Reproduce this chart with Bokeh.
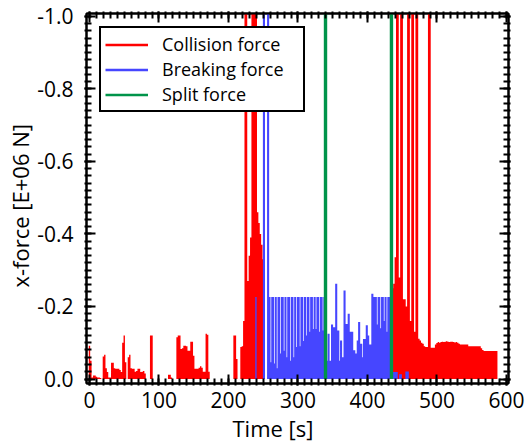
import numpy as np
from bokeh.plotting import figure
from bokeh.models import (Range1d, FixedTicker, NumeralTickFormatter, LinearAxis,
                          Legend, LegendItem, Title, CustomJSTickFormatter)
from bokeh.embed import file_html
from bokeh.resources import INLINE

# ---------------- data ----------------
S = -1.2  # spike beyond the plotted range

# Collision force, sampled every 2 s from t = 0
red_t0, red_dt = 0.0, 2.0
f_red = [
    -.092, -.05, -.004, -.01, -.01, -.006, -.004, -.004, -.003, 0,          # 0
    -.062, -.067, -.03, -.019, -.004, -.004, -.045, -.045, -.03, -.028,     # 20
    -.028, -.028, -.025, -.019, -.10, -.12, -.046, 0, -.06, -.067,          # 40
    -.03, -.028, -.028, -.02, -.022, -.028, -.028, -.019, -.02, -.022,      # 60
    -.015, 0, 0, 0, -.12, -.12, 0, 0, 0, 0,                                 # 80
    0, 0, 0, 0, 0, 0, 0, -.012, -.012, -.004,                               # 100
    0, 0, 0, -.115, -.12, -.12, -.083, -.085, -.092, -.092,                 # 120
    -.09, -.078, -.078, -.103, -.103, -.064, -.028, -.028, -.028, -.031,    # 140
    -.035, -.031, -.02, -.02, -.125, -.122, -.02, 0, 0, 0,                  # 160
    0, 0, 0, 0, 0, 0, 0, 0, 0, 0,                                           # 180
    0, 0, 0, 0, -.12, -.12, -.055, 0, 0, -.088,                             # 200
    -.09, -.16, S, S, -.27, -.34, -.39, S, S, S,                            # 220
    S, -.46, -.43, -.40, -.37, -.33, 0, 0, 0, 0,                            # 240
    0, 0, 0, 0, 0, 0, 0, 0, 0, 0,                                           # 260
    0, 0, 0, 0, 0, 0, 0, 0, 0, 0,                                           # 280
    0, 0, 0, 0, 0, 0, 0, 0, 0, 0,                                           # 300
    0, 0, 0, 0, 0, 0, 0, 0, 0, 0,                                           # 320
    0, 0, 0, 0, 0, 0, 0, 0, 0, 0,                                           # 340
    0, 0, 0, 0, 0, 0, 0, 0, 0, 0,                                           # 360
    0, 0, 0, 0, 0, 0, 0, 0, 0, 0,                                           # 380
    0, 0, 0, 0, 0, 0, 0, 0, 0, 0,                                           # 400
    0, 0, 0, 0, 0, 0, 0, -.2, -.25, -.263,                                  # 420
    -.336, S, S, -.28, S, S, -.22, -.22, -.20, S,                           # 440
    S, -.16, S, S, -.13, S, S, -.111, -.106, -.10,                          # 460
    -.097, -.09, -.088, -.088, S, S, -.086, -.086, -.086, -.095,            # 480
    -.099, -.102, -.10, -.102, -.103, -.102, -.103, -.104, -.103, -.102,    # 500
    -.103, -.103, -.102, -.101, -.102, -.10, -.097, -.095, -.095, -.095,    # 520
    -.095, -.095, -.095, -.09, -.09, -.09, -.09, -.09, -.09, -.09,          # 540
    -.09, -.09, -.085, -.08, -.077, -.077, -.077, -.077, -.077, -.077,      # 560
    -.077, -.077, -.077, -.077,                                             # 580
]

# Breaking force, sampled every 1 s from t = 238
blue_t0, blue_dt = 238.0, 1.0
f_blue = [
    0, -.226, -.226, 0, 0, 0, 0, 0, 0, 0,                                   # 238
    0, 0, S, S, S, 0, 0, 0, S, S,                                           # 248
    S, -.226, -.226, -.046, -.226, -.226, -.226, -.226, -.043, -.226,       # 258
    -.226, -.226, -.03, -.226, -.226, -.226, -.226, -.07, -.226, -.226,     # 268
    -.226, -.226, -.078, -.226, -.226, -.226, -.06, -.226, -.226, -.226,    # 278
    -.226, -.05, -.226, -.226, -.226, -.226, -.06, -.226, -.226, -.226,     # 288
    -.088, -.226, -.226, -.226, -.226, -.09, -.226, -.226, -.226, -.226,    # 298
    -.105, -.226, -.226, -.226, -.12, -.226, -.226, -.226, -.226, -.13,     # 308
    -.226, -.226, -.226, -.226, -.138, -.226, -.226, -.226, -.138, -.226,   # 318
    -.226, -.226, -.226, -.13, -.226, -.226, -.226, -.226, -.134, -.226,    # 328
    -.1, -.1, -.1, -.1, -.05, -.125, -.125, -.125, -.05, -.05,              # 338
    -.15, -.15, -.15, -.143, -.143, -.143, -.263, -.263, -.263, -.134,      # 348
    -.134, -.134, -.05, -.106, -.106, -.106, -.06, -.06, -.244, -.244,      # 358
    -.244, -.152, -.152, -.152, -.18, -.18, -.18, -.13, -.13, -.13,         # 368
    -.13, -.13, -.079, -.079, -.079, -.07, -.07, -.106, -.106, -.157,       # 378
    -.157, -.157, -.097, -.097, -.097, -.06, -.11, -.11, -.11, -.11,        # 388
    -.148, -.148, -.148, -.12, -.12, -.095, -.095, -.095, -.235, -.235,     # 398
    -.235, -.226, -.226, -.226, -.226, -.226, -.15, -.226, -.226, -.226,    # 408
    -.226, -.14, -.226, -.226, -.226, -.226, -.16, -.226, -.226, -.226,     # 418
    -.13, -.226, -.226, -.226, -.226, -.1, -.05, -.05, -.05, -.019,         # 428
    -.019, -.019, -.019, -.019, -.019, -.019, 0, 0, -.013, -.013,           # 438
    -.013, -.013, 0, 0, 0, 0, 0, -.021, -.021, -.021,                       # 448
    -.021, -.021, 0,                                                        # 458
]

# Split force: two events
t_split = [339.6, 434.5]
f_split = [S, S]

series_names = ["Collision force", "Breaking force", "Split force"]
x_ticks = [0, 100, 200, 300, 400, 500, 600]
y_ticks = [-1.0, -0.8, -0.6, -0.4, -0.2, 0.0]
x_title = "Time [s]"
y_title = "x-force [E+06 N]"

RED, BLUE, GREEN = "#ff0000", "#4646ff", "#00944a"
FONT = "Open Sans"

# ---------------- figure ----------------
p = figure(frame_width=422, frame_height=370,
           x_range=Range1d(-4.3, 602.9), y_range=Range1d(0.0124, -1.008),
           min_border_left=86, min_border_right=19, min_border_top=13, min_border_bottom=61,
           output_backend="svg", toolbar_location=None)
p.xgrid.visible = False
p.ygrid.visible = False
p.outline_line_color = "black"
p.outline_line_width = 2
p.background_fill_color = "white"
p.border_fill_color = "white"


def sample_times(t0, dt, f):
    return t0 + dt * np.arange(len(f))


def step_outline(t0, dt, f):
    f = np.asarray(f, dtype=float)
    t = sample_times(t0, dt, f)
    xs = np.column_stack([t - dt / 2, t + dt / 2]).ravel()
    ys = np.repeat(f, 2)
    xs = np.concatenate([[xs[0]], xs, [xs[-1]]])
    ys = np.concatenate([[0.0], ys, [0.0]])
    return xs, ys


xr, yr = step_outline(red_t0, red_dt, f_red)
p.patch(xr, yr, fill_color=RED, line_color=None)
xb, yb = step_outline(blue_t0, blue_dt, f_blue)
p.patch(xb, yb, fill_color=BLUE, line_color=None)
p.segment(x0=t_split, y0=[0.0] * len(t_split), x1=t_split, y1=f_split,
          line_color=GREEN, line_width=3.4)


# legend samples: lines through the spike tops (they lie above the visible range)
def spike_tops(t0, dt, f):
    t = sample_times(t0, dt, f)
    f = np.asarray(f, dtype=float)
    m = f <= -1.01
    return t[m], f[m]


rx, ry = spike_tops(red_t0, red_dt, f_red)
bx, by = spike_tops(blue_t0, blue_dt, f_blue)
l1 = p.line(x=rx, y=ry, line_color=RED, line_width=2.5)
l2 = p.line(x=bx, y=by, line_color=BLUE, line_width=2.5)
l3 = p.line(x=t_split, y=f_split, line_color=GREEN, line_width=2.5)
legend = Legend(items=[LegendItem(label=series_names[0], renderers=[l1]),
                       LegendItem(label=series_names[1], renderers=[l2]),
                       LegendItem(label=series_names[2], renderers=[l3])],
                location="top_left", margin=13, padding=4, spacing=1,
                glyph_width=43, glyph_height=21, label_height=21, label_width=137,
                label_standoff=14, border_line_color="black", border_line_width=2,
                border_line_alpha=1.0,
                background_fill_color="white", background_fill_alpha=1.0,
                label_text_font=FONT, label_text_font_size="18px",
                label_text_color="black")
p.add_layout(legend)

# axes
x_minor = list(range(0, 610, 10))
y_minor = [round(-1.0 + 0.02 * i, 2) for i in range(51)]
xt = FixedTicker(ticks=x_ticks, minor_ticks=x_minor)
yt = FixedTicker(ticks=y_ticks, minor_ticks=y_minor)


def style(ax):
    ax.axis_line_width = 2
    ax.axis_line_color = "black"
    ax.major_tick_in = 9
    ax.major_tick_out = 2
    ax.minor_tick_in = 5
    ax.minor_tick_out = 2
    ax.major_tick_line_width = 2
    ax.minor_tick_line_width = 2
    ax.major_tick_line_color = "black"
    ax.minor_tick_line_color = "black"
    ax.major_label_text_font = FONT
    ax.major_label_text_color = "black"
    ax.major_label_text_font_size = "21px"


p.xaxis[0].ticker = xt
p.yaxis[0].ticker = yt
p.yaxis[0].formatter = NumeralTickFormatter(format="0.0")
style(p.xaxis[0])
style(p.yaxis[0])
p.xaxis[0].major_label_standoff = 6
p.yaxis[0].major_label_standoff = 11

blank = CustomJSTickFormatter(code="return ''")
top = LinearAxis(ticker=xt, formatter=blank, major_label_standoff=0)
right = LinearAxis(ticker=yt, formatter=blank, major_label_standoff=0)
style(top)
style(right)
p.add_layout(top, "above")
p.add_layout(right, "right")

# axis titles
p.add_layout(Title(text=x_title, align="left", offset=146, text_font=FONT,
                   text_font_size="22px", text_font_style="normal",
                   text_color="black", standoff=0), "below")
p.add_layout(Title(text=y_title, align="left", offset=96, text_font=FONT,
                   text_font_size="22px", text_font_style="normal",
                   text_color="black", standoff=0), "left")

open("out.html", "w").write(file_html(p, INLINE))
